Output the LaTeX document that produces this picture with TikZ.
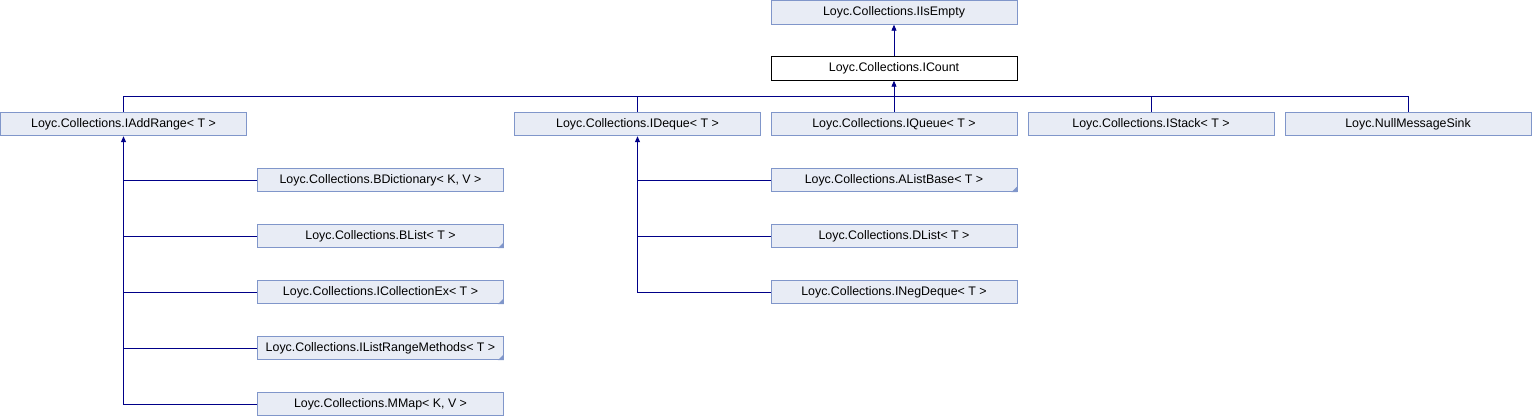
\documentclass[tikz,border=0pt]{standalone}
\usepackage{fontspec}
\setmainfont{Liberation Sans}
\usetikzlibrary{arrows.meta}
\definecolor{boxfill}{RGB}{232,236,245}
\definecolor{boxline}{RGB}{128,150,202}
\definecolor{edgeblue}{RGB}{0,0,136}
\begin{document}
\begin{tikzpicture}[x=1pt,y=-1pt,font=\fontsize{12.4}{14}\selectfont,
  cls/.style={draw=boxline,fill=boxfill,line width=0.9pt,minimum width=246pt,minimum height=23.5pt,inner sep=0pt},
  edge/.style={draw=edgeblue,line width=0.9pt},
  tip/.style={-{Triangle[width=5pt,length=6pt]}}]
\useasboundingbox (0,0) rectangle (1532,416);

\node[cls] (isempty) at (894,12.5) {Loyc.Collections.IIsEmpty};
\node[cls,draw=black,fill=white] (count) at (894,68.5) {Loyc.Collections.ICount};

\node[cls] (addrange) at (123.5,124) {Loyc.Collections.IAddRange< T >};
\node[cls] (deque) at (637.5,124) {Loyc.Collections.IDeque< T >};
\node[cls] (queue) at (894,124) {Loyc.Collections.IQueue< T >};
\node[cls] (stack) at (1151,124) {Loyc.Collections.IStack< T >};
\node[cls] (sink) at (1408,124) {Loyc.NullMessageSink};

\node[cls] (bdict) at (380.5,180) {Loyc.Collections.BDictionary< K, V >};
\node[cls] (blist) at (380.5,236) {Loyc.Collections.BList< T >};
\node[cls] (collex) at (380.5,292) {Loyc.Collections.ICollectionEx< T >};
\node[cls] (rangemeth) at (380.5,348) {Loyc.Collections.IListRangeMethods< T >};
\node[cls] (mmap) at (380.5,404) {Loyc.Collections.MMap< K, V >};

\node[cls] (alistbase) at (894,180) {Loyc.Collections.AListBase< T >};
\node[cls] (dlist) at (894,236) {Loyc.Collections.DList< T >};
\node[cls] (negdeque) at (894,292) {Loyc.Collections.INegDeque< T >};

% small corner marks
\fill[boxline] (blist.south east) -- ++(-6,0) -- ++(6,-6) -- cycle;
\fill[boxline] (collex.south east) -- ++(-6,0) -- ++(6,-6) -- cycle;
\fill[boxline] (rangemeth.south east) -- ++(-6,0) -- ++(6,-6) -- cycle;
\fill[boxline] (alistbase.south east) -- ++(-6,0) -- ++(6,-6) -- cycle;

\coordinate (bus) at (894,96);

\draw[edge,tip] (count) -- (isempty);
\draw[edge,tip] (bus) -- (count);
\draw[edge] (queue) -- (bus);
\draw[edge] (addrange) |- (bus);
\draw[edge] (deque) |- (bus);
\draw[edge] (stack) |- (bus);
\draw[edge] (sink) |- (bus);

\draw[edge,tip] (mmap.west) -| (addrange.south);
\draw[edge] (bdict.west) -- (bdict.west -| addrange.south);
\draw[edge] (blist.west) -- (blist.west -| addrange.south);
\draw[edge] (collex.west) -- (collex.west -| addrange.south);
\draw[edge] (rangemeth.west) -- (rangemeth.west -| addrange.south);

\draw[edge,tip] (negdeque.west) -| (deque.south);
\draw[edge] (alistbase.west) -- (alistbase.west -| deque.south);
\draw[edge] (dlist.west) -- (dlist.west -| deque.south);
\end{tikzpicture}
\end{document}
